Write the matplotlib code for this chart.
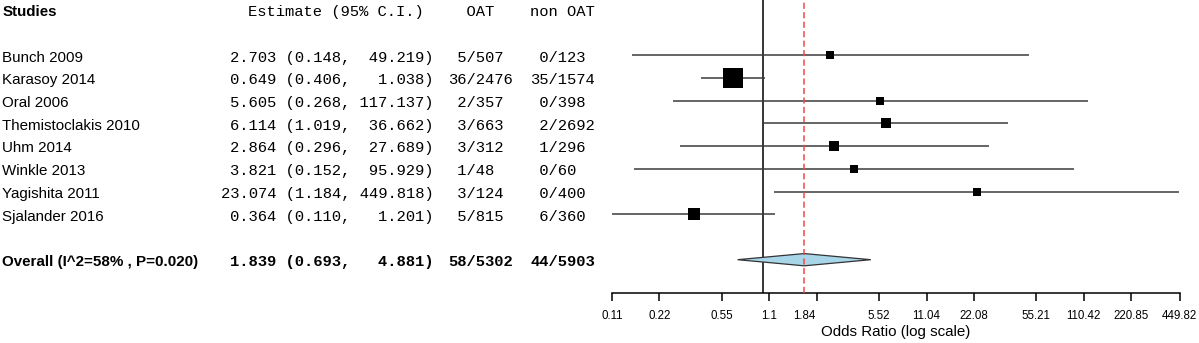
import numpy as np
import matplotlib
matplotlib.use("Agg")
import matplotlib.pyplot as plt
from matplotlib.patches import Polygon
from matplotlib.ticker import FixedLocator, FixedFormatter

# data
studies = ["Bunch 2009", "Karasoy 2014", "Oral 2006", "Themistoclakis 2010",
           "Uhm 2014", "Winkle 2013", "Yagishita 2011", "Sjalander 2016"]
est = [2.703, 0.649, 5.605, 6.114, 2.864, 3.821, 23.074, 0.364]
lo = [0.148, 0.406, 0.268, 1.019, 0.296, 0.152, 1.184, 0.110]
hi = [49.219, 1.038, 117.137, 36.662, 27.689, 95.929, 449.818, 1.201]
oat_events = [5, 36, 2, 3, 3, 1, 3, 5]
oat_total = [507, 2476, 357, 663, 312, 48, 124, 815]
non_events = [0, 35, 0, 2, 1, 0, 0, 6]
non_total = [123, 1574, 398, 2692, 296, 60, 400, 360]
weight = [6.7, 37.6, 6.7, 11.0, 9.0, 6.1, 7.2, 15.7]  # relative box weight (%)

overall_label = "Overall (I^2=58% , P=0.020)"
overall_est, overall_lo, overall_hi = 1.839, 0.693, 4.881
overall_oat = (58, 5302)
overall_non = (44, 5903)

tick_vals = [0.11, 0.22, 0.55, 1.1, 2.21, 5.52, 11.04, 22.08, 55.21, 110.42, 220.85, 449.82]
tick_labs = ["0.11", "0.22", "0.55", "1.1", "", "5.52", "11.04", "22.08",
             "55.21", "110.42", "220.85", "449.82"]

W, H = 1199, 343
fig = plt.figure(figsize=(W / 100, H / 100), dpi=100)

sans = ["Liberation Sans", "DejaVu Sans"]
mono = ["Liberation Mono", "DejaVu Sans Mono"]
fs_sans = 10.9
fs_mono = 11.15

ylim = (12.48, -0.436)
ax_bottom = (H - 293.3) / H
x0, x1 = 612, 1179.5
toff = 0.1  # small downward nudge of text relative to the lines

# text table on the left, x in pixels
tax = fig.add_axes([0, ax_bottom, x0 / W, 1 - ax_bottom])
tax.set_xlim(0, x0)
tax.set_ylim(*ylim)
tax.axis("off")

ax = fig.add_axes([x0 / W, ax_bottom, (x1 - x0) / W, 1 - ax_bottom])
ax.set_xscale("log")
ax.set_xlim(tick_vals[0], tick_vals[-1])
ax.set_ylim(*ylim)


def frac(n, d):
    return f"{n:>2}/{d}"


def row_text(r, name, e, l, h, a, b, weight_="normal"):
    tax.text(2.5, r + toff, name, family=sans, fontsize=fs_sans,
             fontweight=weight_, va="center")
    tax.text(433.3, r + toff, f"{e:.3f} ({l:.3f}, {h:7.3f})", family=mono,
             fontsize=fs_mono, fontweight=weight_, ha="right", va="center")
    tax.text(448.5, r + toff, a, family=mono, fontsize=fs_mono,
             fontweight=weight_, va="center")
    tax.text(530.5, r + toff, b, family=mono, fontsize=fs_mono,
             fontweight=weight_, va="center")


# header
tax.text(2.5, toff, "Studies", family=sans, fontsize=fs_sans, fontweight="bold", va="center")
tax.text(424, toff, "Estimate (95% C.I.)", family=mono, fontsize=fs_mono, ha="right", va="center")
tax.text(448.5, toff, "  OAT", family=mono, fontsize=fs_mono, va="center")
tax.text(530.5, toff, "non OAT", family=mono, fontsize=fs_mono, va="center")

rows = np.arange(len(studies)) + 2
for i, r in enumerate(rows):
    row_text(r, studies[i], est[i], lo[i], hi[i],
             frac(oat_events[i], oat_total[i]), frac(non_events[i], non_total[i]))
    ax.plot([lo[i], hi[i]], [r, r], color="#3c3c3c", lw=1.1,
            solid_capstyle="butt", zorder=2)
    side = np.sqrt(weight[i]) * 3.10 * 0.72
    ax.plot(est[i], r, marker="s", ms=side, color="black", mew=0, zorder=3)

orow = rows[-1] + 2
row_text(orow, overall_label, overall_est, overall_lo, overall_hi,
         frac(*overall_oat), frac(*overall_non), weight_="bold")

dh = 0.27
diamond = Polygon([(overall_lo, orow), (overall_est, orow - dh),
                   (overall_hi, orow), (overall_est, orow + dh)],
                  closed=True, facecolor="#a8d6e8", edgecolor="#333333", lw=0.9, zorder=2)
ax.add_patch(diamond)

ax.axvline(1, color="black", lw=1.1, zorder=1)
ax.axvline(overall_est, color="#f04848", lw=1.1, dashes=(4, 2.2), zorder=4)

for s in ["top", "right", "left"]:
    ax.spines[s].set_visible(False)
ax.spines["bottom"].set_linewidth(1.1)
ax.set_yticks([])
ax.xaxis.set_major_locator(FixedLocator(tick_vals))
ax.xaxis.set_major_formatter(FixedFormatter(tick_labs))
ax.xaxis.set_minor_locator(FixedLocator([overall_est]))
ax.xaxis.set_minor_formatter(FixedFormatter([f"{overall_est:.2f}"]))
ax.tick_params(axis="x", which="major", length=5.8, width=1.1, pad=6.0, labelsize=8.3)
ax.tick_params(axis="x", which="minor", length=0, pad=11.8, labelsize=8.3)
for t in ax.get_xticklabels(which="both"):
    t.set_family(sans)
ax.set_xlabel("Odds Ratio (log scale)", family=sans, fontsize=10.9, labelpad=2.5)

fig.savefig("out.png", dpi=100)
